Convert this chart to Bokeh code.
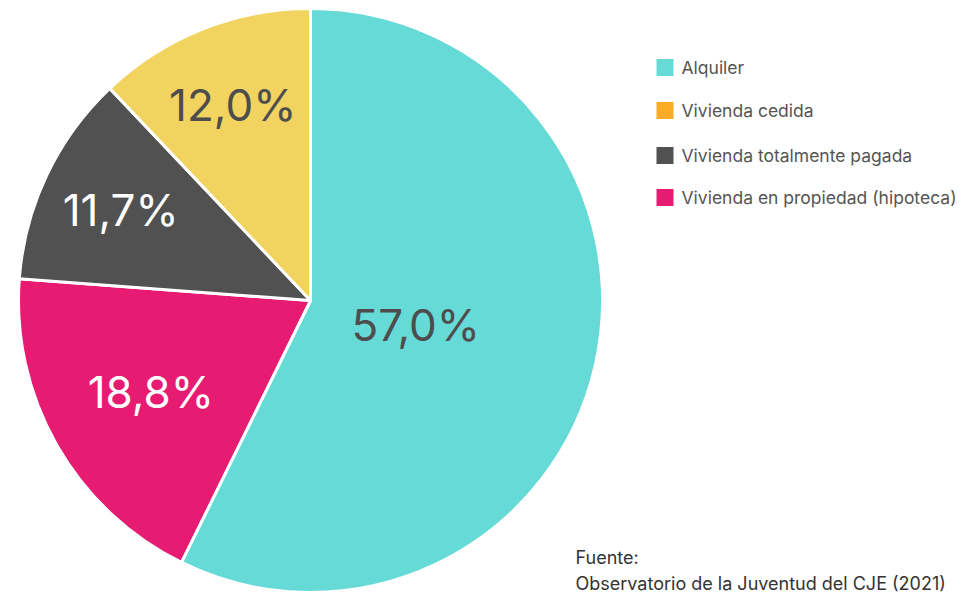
import numpy as np
from bokeh.plotting import figure
from bokeh.models import Range1d, ColumnDataSource
from bokeh.core.properties import value
from bokeh.embed import file_html
from bokeh.resources import INLINE

# ---- data ----
categories = ["Alquiler", "Vivienda en propiedad (hipoteca)", "Vivienda totalmente pagada", "Vivienda cedida"]
values = [57.0, 18.8, 11.7, 12.0]
labels = ["57,0%", "18,8%", "11,7%", "12,0%"]
slice_colors = ["#66dad7", "#e71b72", "#515151", "#f2d35f"]
label_colors = ["#4d4d4d", "#ffffff", "#ffffff", "#4d4d4d"]

legend_items = ["Alquiler", "Vivienda cedida", "Vivienda totalmente pagada", "Vivienda en propiedad (hipoteca)"]
legend_colors = ["#66dad7", "#fbab27", "#515151", "#e71b72"]

source_lines = ["Fuente:", "Observatorio de la Juventud del CJE (2021)"]

# ---- layout (page px -> data units) ----
W, H = 968, 595
def fx(x): return x
def fy(y): return H - y

cx, cy, R = fx(310), fy(300), 292
label_r = [0.37, 0.63, 0.72, 0.72]

p = figure(width=W, height=H, output_backend="svg", toolbar_location=None,
           x_range=Range1d(0, W), y_range=Range1d(0, H), min_border=0)
p.axis.visible = False
p.grid.visible = False
p.outline_line_color = None
p.background_fill_color = "white"
p.border_fill_color = "white"

vals = np.array(values)
fr = vals / vals.sum()
ends_cum = np.cumsum(fr)
starts_cum = ends_cum - fr
a_start = np.pi / 2 - starts_cum * 2 * np.pi
a_end = np.pi / 2 - ends_cum * 2 * np.pi
mid = (a_start + a_end) / 2

src = ColumnDataSource(dict(start=a_end, end=a_start, color=slice_colors))
p.wedge(x=cx, y=cy, radius=R, start_angle="start", end_angle="end", source=src,
        fill_color="color", line_color="white", line_width=3)

lx = cx + np.array(label_r) * R * np.cos(mid)
ly = cy + np.array(label_r) * R * np.sin(mid)
p.text(x=lx, y=ly, text=labels, text_color=label_colors, text_font=value("Inter"),
       text_font_size="44px", text_align="center", text_baseline="middle")

# legend
ys = [67, 110, 155, 197]
p.rect(x=[fx(664.5)] * 4, y=[fy(y) for y in ys], width=17, height=17,
       fill_color=legend_colors, line_color=None)
p.text(x=[fx(681)] * 4, y=[fy(y) for y in ys], text=legend_items, text_color="#555555",
       text_font=value("Inter"), text_font_size="17.5px", text_baseline="middle")

# source
p.text(x=[fx(575)] * 2, y=[fy(557), fy(583)], text=source_lines, text_color="#333333",
       text_font=value("Inter"), text_font_size="18px", text_baseline="middle")

open("out.html", "w").write(file_html(p, INLINE))
